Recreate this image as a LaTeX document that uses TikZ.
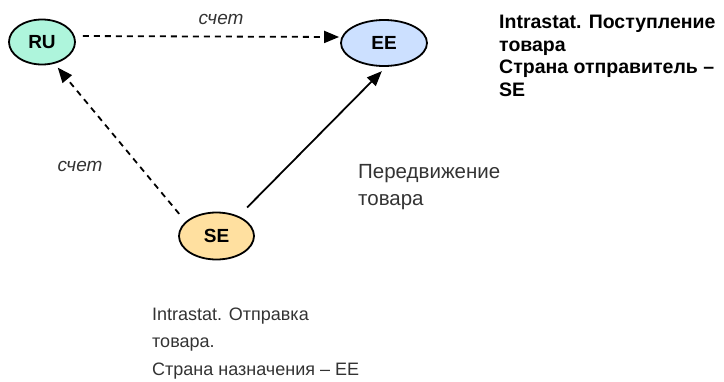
\documentclass[tikz,border=0pt]{standalone}
\usepackage{fontspec}
\setmainfont{Liberation Sans}
\usetikzlibrary{shapes.geometric,arrows.meta}
\definecolor{rufill}{HTML}{AEF5DC}
\definecolor{eefill}{HTML}{CCE0FF}
\definecolor{sefill}{HTML}{FFE0A0}
\definecolor{txtgray}{HTML}{333333}
\begin{document}
\begin{tikzpicture}[x=1pt,y=-1pt,
  country/.style={ellipse,draw=black,line width=1.8pt,inner sep=0pt,
    font=\bfseries\fontsize{19}{22}\selectfont},
  flowarrow/.style={line width=1.8pt,-{Triangle[length=15pt,width=12pt]}},
  dashflow/.style={flowarrow,dash pattern=on 6pt off 5pt},
  lbl/.style={anchor=base west,inner sep=0pt,text=txtgray,font=\fontsize{18}{22}\selectfont},
  widelbl/.style={lbl,font=\fontsize{20.5}{22}\selectfont},
  boldlbl/.style={anchor=base west,inner sep=0pt,text=black,font=\bfseries\fontsize{19.5}{22}\selectfont},
  itlbl/.style={anchor=base,inner sep=0pt,text=txtgray,font=\itshape\fontsize{19}{22}\selectfont}]
\useasboundingbox (0,0) rectangle (724,381);
\node[country,fill=rufill,minimum width=66pt,minimum height=45pt] (RU) at (42,42) {RU};
\node[country,fill=eefill,minimum width=86pt,minimum height=46pt] (EE) at (384,43) {EE};
\node[country,fill=sefill,minimum width=75pt,minimum height=47pt] (SE) at (216.5,236) {SE};
\draw[dashflow,shorten <=7pt,shorten >=1pt] ([yshift=6pt]RU.east) -- ([yshift=6pt]EE.west);
\draw[dashflow,shorten <=10pt,shorten >=5pt] (SE.155) -- (RU.-60);
\draw[flowarrow,shorten <=12pt,shorten >=6pt] (SE.42) -- (EE.-85);
\node[itlbl] (l1) at (221,24) {счет};
\node[itlbl] (l2) at (80,171) {счет};
\node[widelbl] (m1) at (358,178) {Передвижение};
\node[widelbl] (m2) at (358,205) {товара};
\node[boldlbl] (b1) at (499,28.5) {Intrastat. Поступление};
\node[boldlbl] (b2) at (499,51) {товара};
\node[boldlbl] (b3) at (499,73.5) {Страна отправитель –};
\node[boldlbl] (b4) at (499,96) {SE};
\node[lbl] (s1) at (152,320) {Intrastat. Отправка};
\node[lbl] (s2) at (152,347.5) {товара.};
\node[lbl] (s3) at (152,375) {Страна назначения – EE};
\end{tikzpicture}
\end{document}
